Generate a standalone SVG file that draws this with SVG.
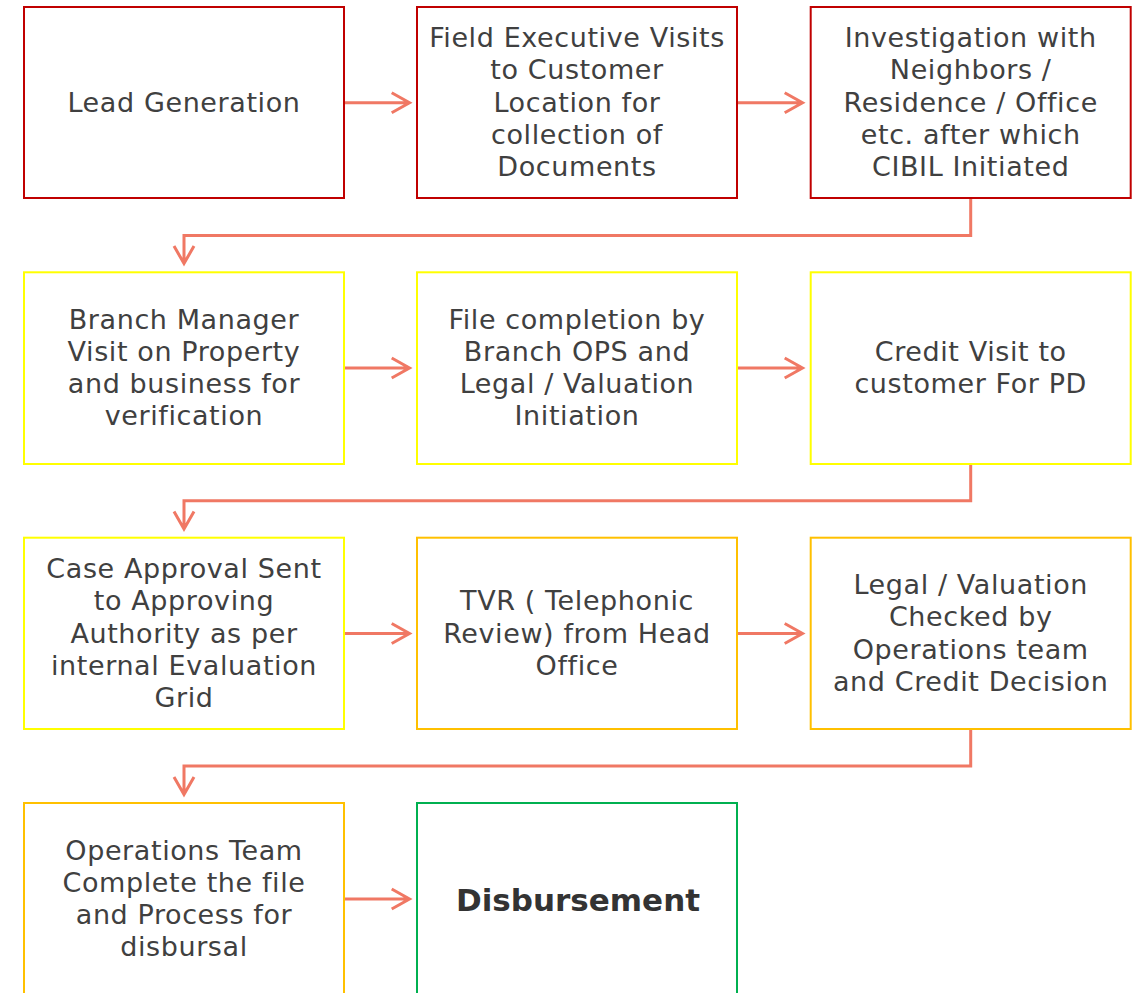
<svg xmlns="http://www.w3.org/2000/svg" width="1137" height="993" viewBox="0 0 1137 993">
<style>
.box{fill:#fff;stroke-width:2}
.r{stroke:#C00000}.y{stroke:#FFFF00}.o{stroke:#FFC000}.g{stroke:#00B050}
.t{font-family:"DejaVu Sans",sans-serif;font-size:27px;fill:#404040;text-anchor:middle;letter-spacing:0.6px}
.b{font-family:"DejaVu Sans",sans-serif;font-size:31px;font-weight:bold;fill:#333;text-anchor:middle}
.c{fill:none;stroke:#F07864;stroke-width:3;stroke-linejoin:miter}
</style>
<rect width="1137" height="993" fill="#fff"/>
<g id="connectors">
<path class="c" d="M344 102.7H409M391.7 92.7L409.5 102.7L391.7 112.7"/>
<path class="c" d="M737 102.7H802M784.7 92.7L802.5 102.7L784.7 112.7"/>
<path class="c" d="M344 368H409M391.7 358L409.5 368L391.7 378"/>
<path class="c" d="M737 368H802M784.7 358L802.5 368L784.7 378"/>
<path class="c" d="M344 633.5H409M391.7 623.5L409.5 633.5L391.7 643.5"/>
<path class="c" d="M737 633.5H802M784.7 623.5L802.5 633.5L784.7 643.5"/>
<path class="c" d="M344 899H409M391.7 889L409.5 899L391.7 909"/>
<path class="c" d="M970.7 198V235.5H184V263M174 246L184 263.5L194 246"/>
<path class="c" d="M970.7 464V500.7H184V528.5M174 511.5L184 529L194 511.5"/>
<path class="c" d="M970.7 729V766H184V794M174 777L184 794.5L194 777"/>
</g>
<g id="n1"><rect class="box r" x="24" y="7" width="320" height="191"/>
<text class="t" x="184" y="112">Lead Generation</text></g>
<g id="n2"><rect class="box r" x="417" y="7" width="320" height="191"/>
<text class="t" x="577"><tspan x="577" y="47">Field Executive Visits</tspan><tspan x="577" y="79.3">to Customer</tspan><tspan x="577" y="111.6">Location for</tspan><tspan x="577" y="143.9">collection of</tspan><tspan x="577" y="176.2">Documents</tspan></text></g>
<g id="n3"><rect class="box r" x="810.7" y="7" width="320" height="191"/>
<text class="t" x="970.7"><tspan x="970.7" y="47">Investigation with</tspan><tspan x="970.7" y="79.3">Neighbors /</tspan><tspan x="970.7" y="111.6">Residence / Office</tspan><tspan x="970.7" y="143.9">etc. after which</tspan><tspan x="970.7" y="176.2">CIBIL Initiated</tspan></text></g>
<g id="n4"><rect class="box y" x="24" y="272.3" width="320" height="191.7"/>
<text class="t" x="184"><tspan x="184" y="328.5">Branch Manager</tspan><tspan x="184" y="360.8">Visit on Property</tspan><tspan x="184" y="393.1">and business for</tspan><tspan x="184" y="425.4">verification</tspan></text></g>
<g id="n5"><rect class="box y" x="417" y="272.3" width="320" height="191.7"/>
<text class="t" x="577"><tspan x="577" y="328.5">File completion by</tspan><tspan x="577" y="360.8">Branch OPS and</tspan><tspan x="577" y="393.1">Legal / Valuation</tspan><tspan x="577" y="425.4">Initiation</tspan></text></g>
<g id="n6"><rect class="box y" x="810.7" y="272.3" width="320" height="191.7"/>
<text class="t" x="970.7"><tspan x="970.7" y="360.8">Credit Visit to</tspan><tspan x="970.7" y="393.1">customer For PD</tspan></text></g>
<g id="n7"><rect class="box y" x="24" y="537.7" width="320" height="191.3"/>
<text class="t" x="184"><tspan x="184" y="578">Case Approval Sent</tspan><tspan x="184" y="610.3">to Approving</tspan><tspan x="184" y="642.6">Authority as per</tspan><tspan x="184" y="674.9">internal Evaluation</tspan><tspan x="184" y="707.2">Grid</tspan></text></g>
<g id="n8"><rect class="box o" x="417" y="537.7" width="320" height="191.3"/>
<text class="t" x="577"><tspan x="577" y="610.3">TVR ( Telephonic</tspan><tspan x="577" y="642.6">Review) from Head</tspan><tspan x="577" y="674.9">Office</tspan></text></g>
<g id="n9"><rect class="box o" x="810.7" y="537.7" width="320" height="191.3"/>
<text class="t" x="970.7"><tspan x="970.7" y="594.1">Legal / Valuation</tspan><tspan x="970.7" y="626.4">Checked by</tspan><tspan x="970.7" y="658.7">Operations team</tspan><tspan x="970.7" y="691">and Credit Decision</tspan></text></g>
<g id="n10"><rect class="box o" x="24" y="803" width="320" height="210"/>
<text class="t" x="184"><tspan x="184" y="859.5">Operations Team</tspan><tspan x="184" y="891.8">Complete the file</tspan><tspan x="184" y="924.1">and Process for</tspan><tspan x="184" y="956.4">disbursal</tspan></text></g>
<g id="n11"><rect class="box g" x="417" y="803" width="320" height="210"/>
<text class="b" x="578" y="911">Disbursement</text></g>
</svg>
